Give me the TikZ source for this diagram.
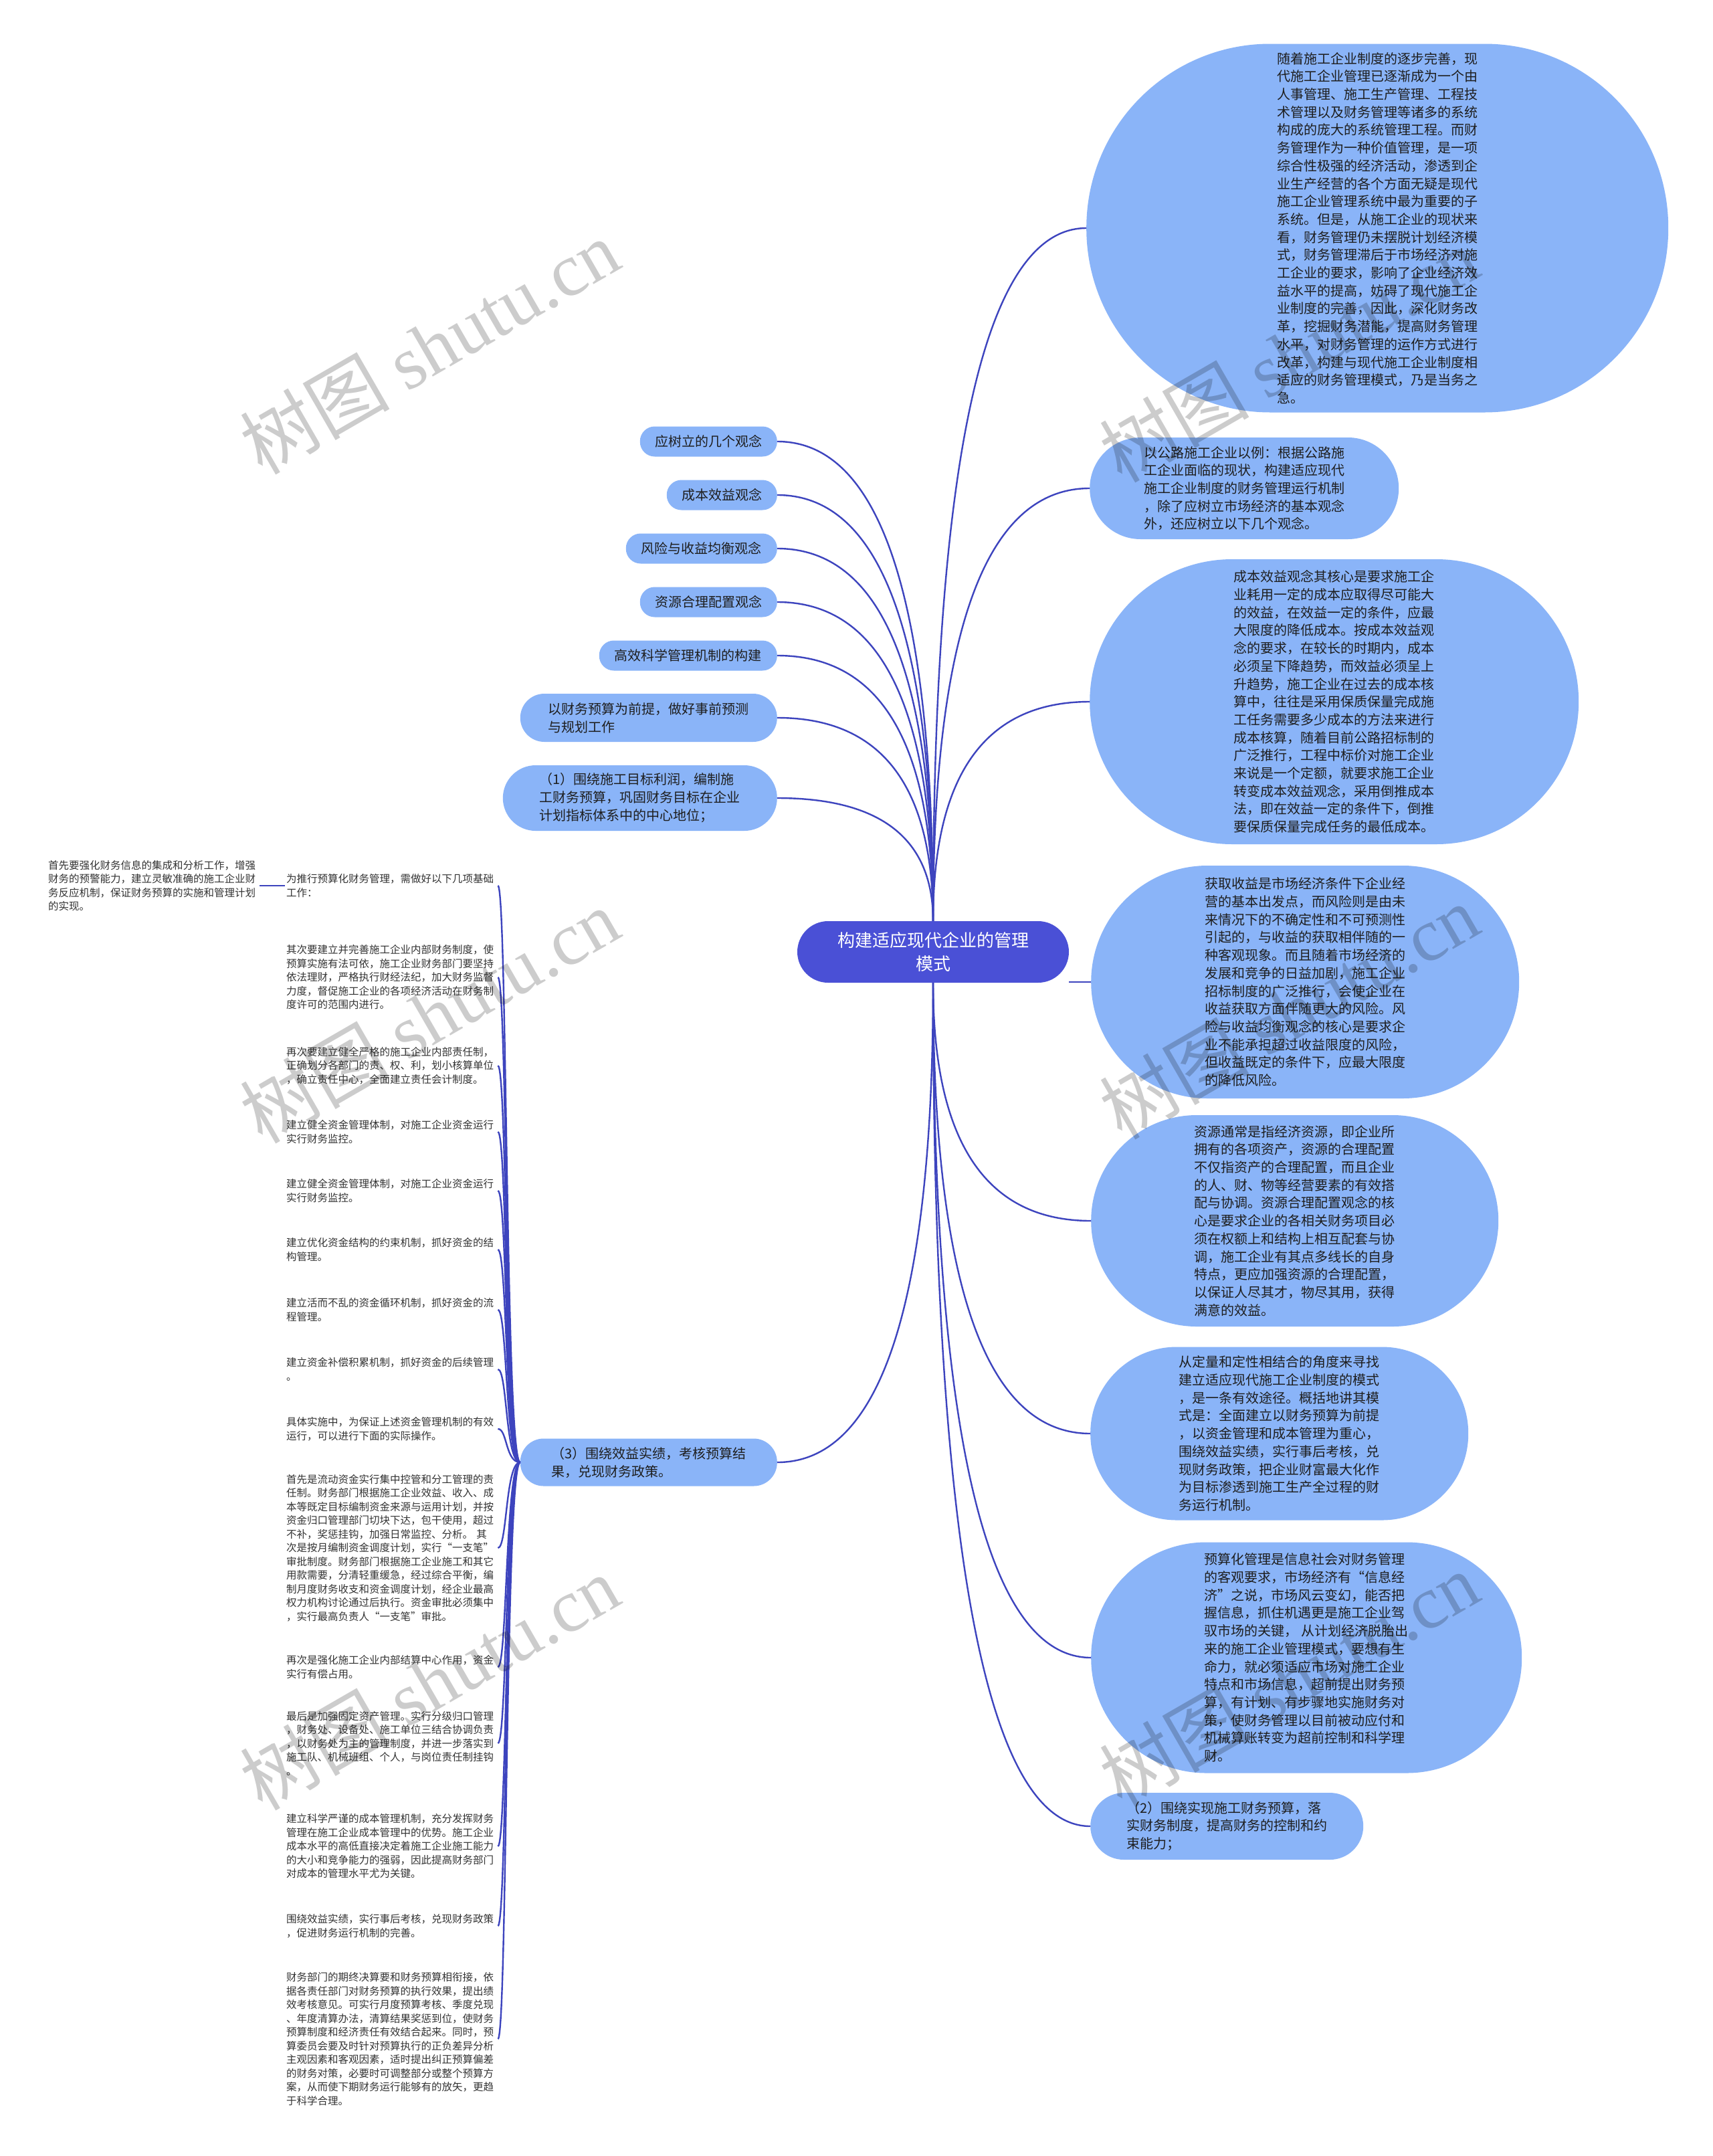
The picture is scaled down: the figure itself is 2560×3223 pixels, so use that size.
\documentclass[tikz,border=0pt]{standalone}
\usepackage{fontspec}
\setmainfont{Noto Sans CJK SC}
\newfontfamily\wmlatin{Liberation Serif}
\usetikzlibrary{calc}
\definecolor{rootc}{HTML}{4A50D6}
\definecolor{nodec}{HTML}{8AB4F8}
\definecolor{linec}{HTML}{3D44BE}
\definecolor{txtc}{HTML}{1E1E1E}
\definecolor{coltxt}{HTML}{333333}
\tikzset{
  link/.style={draw=linec, line width=2.4pt},
  stad/.style n args={3}{minimum width=#1, minimum height=#2, rounded corners=#3},
  bubble/.style={fill=nodec, draw=none, align=left, text=txtc, inner sep=0pt,
    font=\fontsize{20}{26.7}\selectfont},
  small/.style={fill=nodec, draw=none, align=center, text=txtc, inner sep=0pt,
    font=\fontsize{20}{27}\selectfont},
  rootbox/.style={fill=rootc, draw=none, align=center, text=white, inner sep=0pt,
    font=\fontsize{26}{35}\selectfont},
  coltext/.style={anchor=west, text width=314pt, align=left, text=coltxt, inner sep=2pt,
    font=\fontsize{15.5}{20.5}\selectfont},
  wm/.style={rotate=30, text=black, opacity=0.2, font=\fontsize{112}{112}\selectfont}
}
\newcommand{\qlink}[2]{\draw[link] (#1) .. controls ($(#1)!0.667!(#1|-#2)$) and ($(#2)!0.667!(#1|-#2)$) .. (#2);}
\newcommand{\clink}[1]{\draw[link] (L8.west) .. controls +(-22,0) and +(14,0) .. (#1.east);}
\begin{document}
\begin{tikzpicture}[x=1pt, y=-1pt]
\useasboundingbox (0,0) rectangle (2560,3223);
\fill[white] (0,0) rectangle (2560,3223);

% root
\node[rootbox, stad={406pt}{92pt}{46pt}] (root) at (1395,1423) {构建适应现代企业的管理\\模式};

% right side
\node[bubble, stad={870pt}{551pt}{275pt}, anchor=west] (R1) at (1624,341) {随着施工企业制度的逐步完善，现\\
代施工企业管理已逐渐成为一个由\\
人事管理、施工生产管理、工程技\\
术管理以及财务管理等诸多的系统\\
构成的庞大的系统管理工程。而财\\
务管理作为一种价值管理，是一项\\
综合性极强的经济活动，渗透到企\\
业生产经营的各个方面无疑是现代\\
施工企业管理系统中最为重要的子\\
系统。但是，从施工企业的现状来\\
看，财务管理仍未摆脱计划经济模\\
式，财务管理滞后于市场经济对施\\
工企业的要求，影响了企业经济效\\
益水平的提高，妨碍了现代施工企\\
业制度的完善，因此，深化财务改\\
革，挖掘财务潜能，提高财务管理\\
水平，对财务管理的运作方式进行\\
改革，构建与现代施工企业制度相\\
适应的财务管理模式，乃是当务之\\
急。};

\node[bubble, stad={462pt}{152pt}{76pt}, anchor=west] (R2) at (1629,730) {以公路施工企业以例：根据公路施\\
工企业面临的现状，构建适应现代\\
施工企业制度的财务管理运行机制\\
，除了应树立市场经济的基本观念\\
外，还应树立以下几个观念。};

\node[bubble, stad={731pt}{426pt}{213pt}, anchor=west] (R3) at (1629,1049) {成本效益观念其核心是要求施工企\\
业耗用一定的成本应取得尽可能大\\
的效益，在效益一定的条件，应最\\
大限度的降低成本。按成本效益观\\
念的要求，在较长的时期内，成本\\
必须呈下降趋势，而效益必须呈上\\
升趋势，施工企业在过去的成本核\\
算中，往往是采用保质保量完成施\\
工任务需要多少成本的方法来进行\\
成本核算，随着目前公路招标制的\\
广泛推行，工程中标价对施工企业\\
来说是一个定额，就要求施工企业\\
转变成本效益观念，采用倒推成本\\
法，即在效益一定的条件下，倒推\\
要保质保量完成任务的最低成本。};

\node[bubble, stad={640pt}{348pt}{174pt}, anchor=west] (R4) at (1631,1468) {获取收益是市场经济条件下企业经\\
营的基本出发点，而风险则是由未\\
来情况下的不确定性和不可预测性\\
引起的，与收益的获取相伴随的一\\
种客观现象。而且随着市场经济的\\
发展和竞争的日益加剧，施工企业\\
招标制度的广泛推行，会使企业在\\
收益获取方面伴随更大的风险。风\\
险与收益均衡观念的核心是要求企\\
业不能承担超过收益限度的风险，\\
但收益既定的条件下，应最大限度\\
的降低风险。};

\node[bubble, stad={609pt}{316pt}{158pt}, anchor=west] (R5) at (1631,1825) {资源通常是指经济资源，即企业所\\
拥有的各项资产，资源的合理配置\\
不仅指资产的合理配置，而且企业\\
的人、财、物等经营要素的有效搭\\
配与协调。资源合理配置观念的核\\
心是要求企业的各相关财务项目必\\
须在权额上和结构上相互配套与协\\
调，施工企业有其点多线长的自身\\
特点，更应加强资源的合理配置，\\
以保证人尽其才，物尽其用，获得\\
满意的效益。};

\node[bubble, stad={565pt}{259pt}{129pt}, anchor=west] (R6) at (1630,2143) {从定量和定性相结合的角度来寻找\\
建立适应现代施工企业制度的模式\\
，是一条有效途径。概括地讲其模\\
式是：全面建立以财务预算为前提\\
，以资金管理和成本管理为重心，\\
围绕效益实绩，实行事后考核，兑\\
现财务政策，把企业财富最大化作\\
为目标渗透到施工生产全过程的财\\
务运行机制。};

\node[bubble, stad={644pt}{345pt}{172pt}, anchor=west] (R7) at (1631,2478) {预算化管理是信息社会对财务管理\\
的客观要求，市场经济有“信息经\\
济”之说，市场风云变幻，能否把\\
握信息，抓住机遇更是施工企业驾\\
驭市场的关键， 从计划经济脱胎出\\
来的施工企业管理模式，要想有生\\
命力，就必须适应市场对施工企业\\
特点和市场信息，超前提出财务预\\
算，有计划、有步骤地实施财务对\\
策，使财务管理以目前被动应付和\\
机械算账转变为超前控制和科学理\\
财。};

\node[bubble, stad={408pt}{100pt}{50pt}, anchor=west] (R8) at (1630,2730) {（2）围绕实现施工财务预算，落\\
实财务制度，提高财务的控制和约\\
束能力；};

% left side
\node[small, stad={205pt}{45pt}{22pt}, anchor=east] (L1) at (1162,660) {应树立的几个观念};
\node[small, stad={165pt}{45pt}{22pt}, anchor=east] (L2) at (1162,740) {成本效益观念};
\node[small, stad={226pt}{45pt}{22pt}, anchor=east] (L3) at (1162,820) {风险与收益均衡观念};
\node[small, stad={205pt}{45pt}{22pt}, anchor=east] (L4) at (1162,900) {资源合理配置观念};
\node[small, stad={266pt}{45pt}{22pt}, anchor=east] (L5) at (1162,980) {高效科学管理机制的构建};
\node[small, align=left, stad={384pt}{72pt}{36pt}, anchor=east] (L6) at (1162,1073) {以财务预算为前提，做好事前预测\\与规划工作};
\node[small, align=left, stad={410pt}{98pt}{49pt}, anchor=east] (L7) at (1162,1193) {（1）围绕施工目标利润，编制施\\工财务预算，巩固财务目标在企业\\计划指标体系中的中心地位；};
\node[small, align=left, stad={384pt}{71pt}{35pt}, anchor=east] (L8) at (1162,2186) {（3）围绕效益实绩，考核预算结\\果，兑现财务政策。};

% column of texts
\node[coltext] (C0) at (70,1324) {首先要强化财务信息的集成和分析工作，增强\\财务的预警能力，建立灵敏准确的施工企业财\\务反应机制，保证财务预算的实施和管理计划\\的实现。};
\node[coltext] (C1) at (426,1324) {为推行预算化财务管理，需做好以下几项基础\\工作：};
\node[coltext] (C2) at (426,1461) {其次要建立并完善施工企业内部财务制度，使\\预算实施有法可依，施工企业财务部门要坚持\\依法理财，严格执行财经法纪，加大财务监督\\力度，督促施工企业的各项经济活动在财务制\\度许可的范围内进行。};
\node[coltext] (C3) at (426,1593) {再次要建立健全严格的施工企业内部责任制，\\正确划分各部门的责、权、利，划小核算单位\\，确立责任中心，全面建立责任会计制度。};
\node[coltext] (C4) at (426,1692) {建立健全资金管理体制，对施工企业资金运行\\实行财务监控。};
\node[coltext] (C5) at (426,1780) {建立健全资金管理体制，对施工企业资金运行\\实行财务监控。};
\node[coltext] (C6) at (426,1868) {建立优化资金结构的约束机制，抓好资金的结\\构管理。};
\node[coltext] (C7) at (426,1958) {建立活而不乱的资金循环机制，抓好资金的流\\程管理。};
\node[coltext] (C8) at (426,2047) {建立资金补偿积累机制，抓好资金的后续管理\\。};
\node[coltext] (C9) at (426,2136) {具体实施中，为保证上述资金管理机制的有效\\运行，可以进行下面的实际操作。};
\node[coltext] (C10) at (426,2314) {首先是流动资金实行集中控管和分工管理的责\\任制。财务部门根据施工企业效益、收入、成\\本等既定目标编制资金来源与运用计划，并按\\资金归口管理部门切块下达，包干使用，超过\\不补，奖惩挂钩，加强日常监控、分析。 其\\次是按月编制资金调度计划，实行“一支笔”\\审批制度。财务部门根据施工企业施工和其它\\用款需要，分清轻重缓急，经过综合平衡，编\\制月度财务收支和资金调度计划，经企业最高\\权力机构讨论通过后执行。资金审批必须集中\\，实行最高负责人“一支笔”审批。};
\node[coltext] (C11) at (426,2492) {再次是强化施工企业内部结算中心作用，资金\\实行有偿占用。};
\node[coltext] (C12) at (426,2606) {最后是加强固定资产管理。实行分级归口管理\\，财务处、设备处、施工单位三结合协调负责\\，以财务处为主的管理制度，并进一步落实到\\施工队、机械班组、个人，与岗位责任制挂钩\\。};
\node[coltext] (C13) at (426,2760) {建立科学严谨的成本管理机制，充分发挥财务\\管理在施工企业成本管理中的优势。施工企业\\成本水平的高低直接决定着施工企业施工能力\\的大小和竞争能力的强弱，因此提高财务部门\\对成本的管理水平尤为关键。};
\node[coltext] (C14) at (426,2879) {围绕效益实绩，实行事后考核，兑现财务政策\\，促进财务运行机制的完善。};
\node[coltext] (C15) at (426,3048) {财务部门的期终决算要和财务预算相衔接，依\\据各责任部门对财务预算的执行效果，提出绩\\效考核意见。可实行月度预算考核、季度兑现\\、年度清算办法，清算结果奖惩到位，使财务\\预算制度和经济责任有效结合起来。同时，预\\算委员会要及时针对预算执行的正负差异分析\\主观因素和客观因素，适时提出纠正预算偏差\\的财务对策，必要时可调整部分或整个预算方\\案，从而使下期财务运行能够有的放矢，更趋\\于科学合理。};

% connectors from root
\qlink{root.north}{R1.west}
\qlink{root.north}{R2.west}
\qlink{root.north}{R3.west}
\draw[link] (root.east|-R4.west) -- (R4.west);
\qlink{root.south}{R5.west}
\qlink{root.south}{R6.west}
\qlink{root.south}{R7.west}
\qlink{root.south}{R8.west}
\qlink{root.north}{L1.east}
\qlink{root.north}{L2.east}
\qlink{root.north}{L3.east}
\qlink{root.north}{L4.east}
\qlink{root.north}{L5.east}
\qlink{root.north}{L6.east}
\qlink{root.north}{L7.east}
\qlink{root.south}{L8.east}

% column connectors
\foreach \c in {C1,C2,C3,C4,C5,C6,C7,C8,C9,C10,C11,C12,C13,C14,C15} {\clink{\c}}
\draw[link] (C1.west) -- (C0.east);

% watermarks
\node[wm] (W1) at (642,518) {树图 {\wmlatin shutu.cn}};
\node[wm] (W2) at (1927,530) {树图 {\wmlatin shutu.cn}};
\node[wm] (W3) at (642,1518) {树图 {\wmlatin shutu.cn}};
\node[wm] (W4) at (1927,1512) {树图 {\wmlatin shutu.cn}};
\node[wm] (W5) at (642,2515) {树图 {\wmlatin shutu.cn}};
\node[wm] (W6) at (1927,2510) {树图 {\wmlatin shutu.cn}};
\end{tikzpicture}
\end{document}
